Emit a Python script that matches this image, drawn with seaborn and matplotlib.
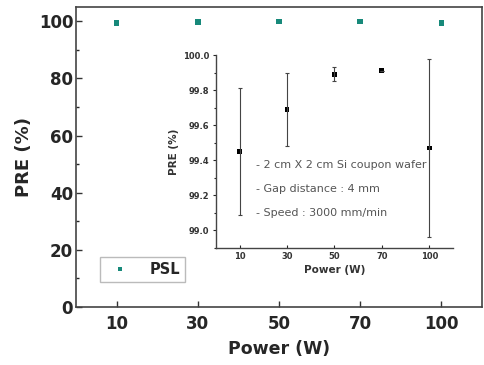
import numpy as np
import pandas as pd
import matplotlib
matplotlib.use("Agg")
import matplotlib.pyplot as plt
import seaborn as sns

# data
power = ["10", "30", "50", "70", "100"]
pre = [99.45, 99.69, 99.89, 99.91, 99.47]
pre_err = [0.36, 0.21, 0.04, 0.0, 0.51]
notes = ["- 2 cm X 2 cm Si coupon wafer", "- Gap distance : 4 mm", "- Speed : 3000 mm/min"]

df = pd.DataFrame({"Power": power, "PRE": pre, "err": pre_err, "label": "PSL"})

sns.set_style("white")
plt.rcParams["font.family"] = ["DejaVu Sans"]

fig = plt.figure(figsize=(4.84, 3.65), dpi=100)
ax = fig.add_axes([0.157, 0.159, 0.839, 0.822])

sns.scatterplot(data=df, x="Power", y="PRE", hue="label", palette=["#17897a"],
                marker="s", s=16, edgecolor="none", ax=ax)
ax.set_xlim(-0.5, 4.5)
ax.set_ylim(0, 105)
ax.set_yticks([0, 20, 40, 60, 80, 100])
ax.set_yticks([10, 30, 50, 70, 90], minor=True)
ax.tick_params(axis="both", which="major", direction="in", length=4, width=1,
               labelsize=12, color="#333333", left=True, bottom=True)
ax.tick_params(axis="x", pad=6)
ax.tick_params(axis="y", pad=2)
ax.tick_params(axis="y", which="minor", direction="in", length=2.5, width=1, left=True)
for lab in ax.get_xticklabels() + ax.get_yticklabels():
    lab.set_fontweight("bold")
for sp in ax.spines.values():
    sp.set_color("#444444")
    sp.set_linewidth(1.2)
ax.set_xlabel("Power (W)", fontsize=12.5, fontweight="bold", labelpad=5)
ax.set_ylabel("PRE (%)", fontsize=13, fontweight="bold", labelpad=4)
leg = ax.legend(loc="lower left", bbox_to_anchor=(0.06, 0.083), borderaxespad=0,
                fontsize=10.5, frameon=True, fancybox=False, edgecolor="#aaaaaa",
                handletextpad=1.0, borderpad=0.35, markerscale=0.8)
for t in leg.get_texts():
    t.set_fontweight("bold")

# inset
ins = fig.add_axes([0.446, 0.321, 0.490, 0.528])
sns.scatterplot(data=df, x="Power", y="PRE", color="black", marker="s", s=12,
                edgecolor="none", ax=ins, legend=False)
ins.errorbar(np.arange(len(power)), pre, yerr=pre_err, fmt="none", ecolor="#444444",
             elinewidth=0.8, capsize=1.5, capthick=0.8)
ins.set_xlim(-0.5, 4.5)
ins.set_ylim(98.9, 100.0)
ins.set_yticks([99.0, 99.2, 99.4, 99.6, 99.8, 100.0])
ins.set_yticklabels(["99.0", "99.2", "99.4", "99.6", "99.8", "100.0"])
ins.set_yticks(np.arange(98.9, 100.0, 0.2), minor=True)
ins.tick_params(axis="y", which="major", direction="out", length=2.5, width=0.8,
                labelsize=6, left=True, pad=2)
ins.tick_params(axis="y", which="minor", direction="out", length=1.5, width=0.8, left=True)
ins.tick_params(axis="x", direction="in", length=2.5, width=0.8, labelsize=6, bottom=True, pad=3)
for lab in ins.get_xticklabels() + ins.get_yticklabels():
    lab.set_fontweight("bold")
    lab.set_color("#333333")
ins.patch.set_alpha(0)
sns.despine(ax=ins)
for sp in ["left", "bottom"]:
    ins.spines[sp].set_color("#444444")
    ins.spines[sp].set_linewidth(1.0)
ins.set_xlabel("Power (W)", fontsize=7.5, fontweight="bold", color="#333333", labelpad=3)
ins.set_ylabel("PRE (%)", fontsize=7.5, fontweight="bold", color="#333333", labelpad=3)
for i, note in enumerate(notes):
    ins.text(0.17, 0.43 - i * 0.125, note, transform=ins.transAxes, fontsize=8,
             color="#555555", va="center")

fig.savefig("out.png", dpi=100)
